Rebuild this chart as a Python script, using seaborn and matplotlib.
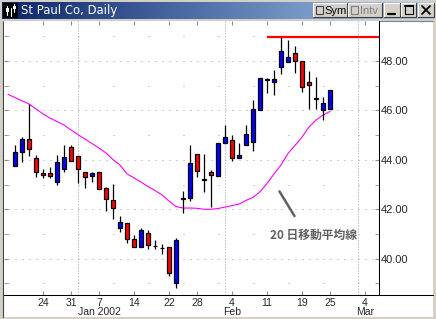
import matplotlib
matplotlib.use("Agg")
import matplotlib.pyplot as plt
import seaborn as sns
import numpy as np
import pandas as pd
from matplotlib.patches import Rectangle
from matplotlib.lines import Line2D

# ---------------- data ----------------
dates = [
    "2001-12-17", "2001-12-18", "2001-12-19", "2001-12-20", "2001-12-21",
    "2001-12-24", "2001-12-26", "2001-12-27", "2001-12-28", "2001-12-31",
    "2002-01-02", "2002-01-03", "2002-01-04", "2002-01-07", "2002-01-08",
    "2002-01-09", "2002-01-10", "2002-01-11", "2002-01-14", "2002-01-15",
    "2002-01-16", "2002-01-17", "2002-01-18", "2002-01-22", "2002-01-23",
    "2002-01-24", "2002-01-25", "2002-01-28", "2002-01-29", "2002-01-30",
    "2002-01-31", "2002-02-01", "2002-02-04", "2002-02-05", "2002-02-06",
    "2002-02-07", "2002-02-08", "2002-02-11", "2002-02-12", "2002-02-13",
    "2002-02-14", "2002-02-15", "2002-02-19", "2002-02-20", "2002-02-21",
    "2002-02-22", "2002-02-25", "2002-02-26", "2002-02-27", "2002-02-28",
    "2002-03-01", "2002-03-04",
]
candle_dates = dates[1:47]
opens = [43.74, 44.33, 44.84, 44.06, 43.48, 43.48, 43.09, 43.63, 44.51, 44.14,
         43.50, 43.36, 43.50, 42.85, 42.36, 41.23, 41.43, 40.81, 40.48, 41.03,
         40.52, 40.45, 40.46, 39.00, 42.44, 42.44, 44.22, 43.21, 43.50, 43.33,
         44.67, 44.79, 44.09, 44.59, 44.73, 46.00, 47.27, 47.14, 47.75, 47.95,
         48.31, 47.99, 47.14, 46.50, 46.00, 46.05]
highs = [44.60, 44.91, 46.25, 44.18, 43.63, 43.71, 44.18, 44.60, 44.60, 44.14,
         43.50, 43.51, 43.50, 42.91, 43.02, 41.72, 41.43, 40.95, 41.23, 41.16,
         40.76, 40.58, 40.46, 40.84, 42.74, 44.60, 44.22, 44.24, 43.59, 44.67,
         45.41, 44.99, 44.68, 45.41, 46.42, 47.30, 47.30, 47.64, 48.98, 48.85,
         48.61, 47.99, 47.58, 47.34, 46.56, 46.81]
lows = [43.74, 43.92, 44.16, 43.32, 43.28, 43.28, 42.97, 43.50, 43.95, 43.07,
        42.87, 43.09, 42.81, 41.94, 41.62, 41.09, 40.62, 40.46, 40.48, 40.38,
        40.40, 40.20, 39.30, 38.83, 41.84, 42.35, 43.32, 42.71, 42.10, 43.33,
        44.67, 43.97, 44.09, 44.59, 44.37, 46.00, 46.69, 46.61, 47.46, 47.95,
        47.50, 46.76, 46.07, 46.07, 45.61, 46.05]
closes = [44.31, 44.84, 44.43, 43.50, 43.37, 43.33, 43.90, 44.10, 43.95, 43.62,
          43.32, 43.47, 42.81, 42.40, 42.06, 41.47, 40.81, 40.46, 41.15, 40.54,
          40.50, 40.43, 39.43, 40.76, 42.42, 43.86, 43.54, 43.19, 43.40, 44.67,
          44.91, 44.09, 44.18, 45.03, 46.05, 47.30, 47.25, 47.26, 48.39, 48.15,
          47.99, 46.94, 47.02, 46.48, 46.29, 46.81]

ma_dates = dates[0:47]
ma20 = [46.65, 46.52, 46.39, 46.26, 46.06, 45.86, 45.69, 45.55, 45.41, 45.21,
        45.02, 44.84, 44.66, 44.48, 44.28, 44.01, 43.79, 43.43, 43.27, 43.10,
        42.92, 42.76, 42.58, 42.33, 42.11, 42.05, 42.05, 42.04, 42.00, 42.00,
        42.03, 42.09, 42.15, 42.21, 42.36, 42.48, 42.71, 43.04, 43.43, 43.79,
        44.26, 44.58, 44.92, 45.33, 45.61, 45.81, 45.96]

tick_dates = ["2001-12-24", "2001-12-31", "2002-01-07", "2002-01-14", "2002-01-22",
              "2002-01-28", "2002-02-04", "2002-02-11", "2002-02-19", "2002-02-25",
              "2002-03-04"]
tick_labels = ["24", "31", "7\nJan 2002", "14", "22", "28", "4\nFeb", "11", "19",
               "25", "4\nMar"]
month_starts = ["2002-01-02", "2002-02-01", "2002-03-01"]
y_major = [40, 42, 44, 46, 48]
y_minor = [39, 41, 43, 45, 47, 49]

resistance = 48.98
resistance_from = "2002-02-11"
title = "St Paul Co, Daily"
ma_note = "20 日移動平均線"

# ---------------- figure ----------------
sns.set_style("white")
plt.rcParams["font.family"] = ["Liberation Sans", "DejaVu Sans"]
W, H = 436, 319
fig = plt.figure(figsize=(W / 100, H / 100), dpi=100)
fig.patch.set_facecolor("#D4D0C8")


def R(x0, y0, x1, y1, **kw):
    r = Rectangle((x0 / W, 1 - y1 / H), (x1 - x0) / W, (y1 - y0) / H,
                  transform=fig.transFigure, **kw)
    fig.add_artist(r)
    return r


def L(xs, ys, **kw):
    fig.add_artist(Line2D([x / W for x in xs], [1 - y / H for y in ys],
                          transform=fig.transFigure, **kw))


def T(x, y, s, **kw):
    fig.text(x / W, 1 - y / H, s, **kw)


# window panel
R(3, 21, 433, 317, facecolor="white", edgecolor="none", zorder=-5)
L([3, 3], [21, 317], color="#404040", lw=0.8, zorder=-4)
L([3, 433], [21, 21], color="#808080", lw=0.8, zorder=-4)

# title bar gradient
tb = fig.add_axes([2 / W, 1 - 19 / H, 432 / W, 17 / H])
grad = np.linspace(0, 1, 256)[None, :]
from matplotlib.colors import LinearSegmentedColormap
cmap = LinearSegmentedColormap.from_list("tb", ["#0A246A", "#A6CAF0"])
tb.imshow(grad, aspect="auto", cmap=cmap, extent=[0, 1, 0, 1])
tb.set_axis_off()

# icon
R(3, 3, 18, 18, facecolor="black", edgecolor="none", zorder=5)
L([7, 7], [6, 15], color="white", lw=0.8, zorder=6)
L([11, 11], [8, 16], color="white", lw=0.8, zorder=6)
L([14, 14], [4, 12], color="white", lw=0.8, zorder=6)
R(5.5, 8, 8.5, 12, facecolor="white", edgecolor="none", zorder=6)
R(12.5, 6, 15.5, 9, facecolor="white", edgecolor="none", zorder=6)
T(21, 10.5, title, color="white", fontsize=8.4, va="center", ha="left",
  family=["DejaVu Sans"], zorder=6)


def button(x0, x1, y0=3, y1=17):
    R(x0, y0, x1, y1, facecolor="#D4D0C8", edgecolor="none", zorder=5)
    L([x0, x1], [y0, y0], color="white", lw=0.8, zorder=6)
    L([x0, x0], [y0, y1], color="white", lw=0.8, zorder=6)
    L([x0, x1], [y1, y1], color="#404040", lw=0.8, zorder=6)
    L([x1, x1], [y0, y1], color="#404040", lw=0.8, zorder=6)


button(313, 347)
R(316, 6.5, 323, 13.5, facecolor="#D4D0C8", edgecolor="#404040", lw=0.8, zorder=7)
T(324.5, 10.5, "Sym", color="black", fontsize=8, va="center", ha="left", zorder=7)
button(348, 382)
R(351, 6.5, 358, 13.5, facecolor="#D4D0C8", edgecolor="#808080", lw=0.8, zorder=7)
T(359.5, 10.5, "Intv", color="#808080", fontsize=8, va="center", ha="left", zorder=7)
button(384, 400)
L([388, 395], [13.5, 13.5], color="black", lw=1.6, zorder=7)
button(401, 416)
R(404.5, 5.5, 412.5, 13.5, facecolor="none", edgecolor="black", lw=0.8, zorder=7)
L([404.5, 412.5], [6, 6], color="black", lw=1.4, zorder=7)
button(418, 434)
L([422, 430], [6, 14], color="black", lw=1.3, zorder=7)
L([422, 430], [14, 6], color="black", lw=1.3, zorder=7)

# ---------------- main axes ----------------
ax = fig.add_axes([4 / W, 1 - 295 / H, 375 / W, 274 / H])
ax.set_facecolor("white")
pos = {d: i for i, d in enumerate(dates)}

cx = np.array([pos[d] for d in candle_dates])
o = np.array(opens); c = np.array(closes)
hi = np.array(highs); lo = np.array(lows)
cols = ["#0000FF" if cc >= oo else "#FF0000" for oo, cc in zip(o, c)]
bottoms = np.minimum(o, c)
heights = np.maximum(np.abs(c - o), 0.02)

ma_df = pd.DataFrame({"x": [pos[d] for d in ma_dates], "ma": ma20})
sns.lineplot(data=ma_df, x="x", y="ma", ax=ax, color="#FF00FF", linewidth=0.8,
             zorder=1.5, legend=False)

ax.vlines(cx, lo, hi, color="black", lw=0.9, zorder=2)
ax.bar(cx, heights, bottom=bottoms, width=0.6, color=cols, edgecolor="black",
       linewidth=0.9, zorder=3)

xl = (-0.571, 53.0)
ax.set_xlim(*xl)
ax.set_ylim(38.53, 49.62)

ax.hlines(resistance, pos[resistance_from], xl[1], color="#FF0000", lw=1.6, zorder=4)

# grid
for m in month_starts:
    ax.axvline(pos[m], color="#A0A0A0", lw=0.72, linestyle=(0, (1, 2)), zorder=0.5)
for v in y_major:
    ax.axhline(v, color="#A0A0A0", lw=0.72, linestyle=(3, (1, 6)), zorder=0.5)
for v in y_minor:
    ax.axhline(v, color="#A0A0A0", lw=0.72, linestyle=(31, (1, 34)), zorder=0.5)

# annotation
ax.annotate("", xy=(41.14, 41.63), xytext=(38.57, 42.82),
            arrowprops=dict(arrowstyle="-", color="#606060", lw=1.8))
ax.text(37.43, 40.96, ma_note, color="#606060", fontsize=8.5, ha="left",
        va="center", family=["Noto Sans CJK JP", "DejaVu Sans"], fontweight="bold")

# axes styling
for s in ["left", "top"]:
    ax.spines[s].set_visible(False)
for s in ["right", "bottom"]:
    ax.spines[s].set_color("black")
    ax.spines[s].set_linewidth(0.75)
L([379, 433], [295, 295], color="black", lw=0.75, zorder=3)

ax.set_xticks([pos[d] for d in tick_dates])
ax.set_xticklabels(tick_labels, fontsize=7.5)
for t in ax.get_xticklabels():
    t.set_linespacing(0.85)
ax.tick_params(axis="x", which="both", top=True, bottom=True, direction="in",
               length=3, color="#909090", pad=2)

ax.set_yticks(y_major)
ax.set_yticks(y_minor, minor=True)
ax.set_yticklabels([f"{v:.2f}" for v in y_major], fontsize=8)
ax.tick_params(axis="y", which="both", left=True, right=True, labelleft=False,
               labelright=True, direction="in", length=3, color="#909090", pad=1)
ax.set_xlabel("")
ax.set_ylabel("")

fig.savefig("out.png", dpi=100, facecolor=fig.get_facecolor())
